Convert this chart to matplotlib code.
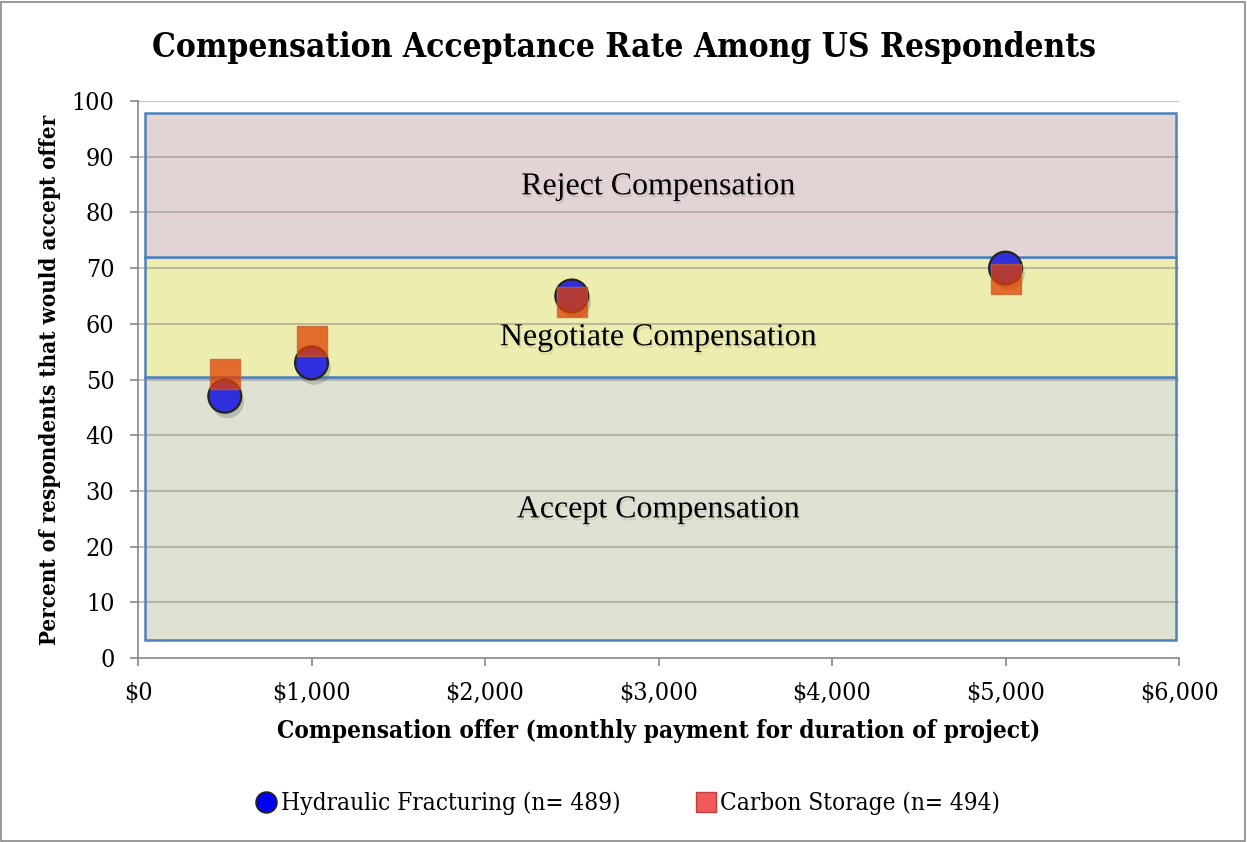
import matplotlib.pyplot as plt
from matplotlib.patches import Rectangle
from matplotlib.lines import Line2D
import matplotlib.patheffects as pe

# data
offers = [500, 1000, 2500, 5000]
hydraulic = [47, 53, 65, 70]
carbon = [51, 57, 64, 68]
hydraulic_label = 'Hydraulic Fracturing (n= 489)'
carbon_label = 'Carbon Storage (n= 494)'

# shaded zones: (bottom, top, label, label_y, colour)
zones = [
    (3.2, 50.4, 'Accept Compensation', 26.6, '#DFE1D3'),
    (50.4, 72.0, 'Negotiate Compensation', 57.5, '#EDEDB0'),
    (72.0, 97.8, 'Reject Compensation', 84.6, '#E2D4D4'),
]
zone_x0, zone_x1 = 40, 5985

xticks = [0, 1000, 2000, 3000, 4000, 5000, 6000]
xtick_labels = ['$0', '$1,000', '$2,000', '$3,000', '$4,000', '$5,000', '$6,000']
yticks = list(range(0, 101, 10))

# Cambria-like look: condensed DejaVu Serif
cambria = {'family': 'DejaVu Serif', 'stretch': 'condensed'}

fig = plt.figure(figsize=(12.47, 8.42), dpi=100)
ax = fig.add_axes([0.1107, 0.2185, 0.8348, 0.6615])

ax.set_xlim(0, 6000)
ax.set_ylim(0, 100)

for y0, y1, label, ly, col in zones:
    r = Rectangle((zone_x0, y0), zone_x1 - zone_x0, y1 - y0, facecolor=col,
                  edgecolor='#4F81BD', lw=1.8, zorder=1)
    ax.add_patch(r)
    ax.text(3000, ly, label, ha='center', va='center', fontsize=23, family='Liberation Serif',
            zorder=3, path_effects=[pe.withSimplePatchShadow(offset=(1, -2), shadow_rgbFace='#777777', alpha=0.2)])

# gridlines on top of the shaded zones
for y in yticks[1:]:
    ax.axhline(y, color='#808080', alpha=0.45, lw=1.5, zorder=2)

ax.scatter(offers, hydraulic, s=560, color='#2F2FDD', edgecolor='#262618', lw=1.6, zorder=4,
           path_effects=[pe.SimplePatchShadow(offset=(2, -4), shadow_rgbFace='#666666', alpha=0.3), pe.Normal()])
ax.scatter(offers, carbon, s=470, marker='s', color='#E04000', alpha=0.75, edgecolor='#C06030', lw=1.0,
           zorder=5)

ax.set_xticks(xticks)
ax.set_xticklabels(xtick_labels)
ax.set_yticks(yticks)
ax.tick_params(axis='both', colors='#868686', labelcolor='black', length=6, width=1.2,
               labelsize=18, pad=11)
for lab in ax.get_xticklabels() + ax.get_yticklabels():
    lab.set_family('DejaVu Serif')
    lab.set_fontstretch('condensed')
for s in ['top', 'right']:
    ax.spines[s].set_visible(False)
for s in ['left', 'bottom']:
    ax.spines[s].set_color('#868686')
    ax.spines[s].set_linewidth(1.2)

ax.set_xlabel('Compensation offer (monthly payment for duration of project)',
              fontsize=17.5, fontweight='bold', va='center', **cambria)
ax.xaxis.set_label_coords(0.5, -0.131)
ax.set_ylabel('Percent of respondents that would accept offer',
              fontsize=16, fontweight='bold', va='center', **cambria)
ax.yaxis.set_label_coords(-0.0845, 0.5)
fig.text(0.5, 0.943, 'Compensation Acceptance Rate Among US Respondents', ha='center', va='center',
         fontsize=24, fontweight='bold', **cambria)

handles = [
    Line2D([], [], ls='none', marker='o', markersize=15, markerfacecolor='#0000EE',
           markeredgecolor='#222222', markeredgewidth=1.2),
    Line2D([], [], ls='none', marker='s', markersize=14, markerfacecolor='#F25A5A',
           markeredgecolor='#C04040', markeredgewidth=1.0),
]
fig.legend(handles, [hydraulic_label, carbon_label], loc='center', bbox_to_anchor=(0.503, 0.046),
           ncol=2, frameon=False, handlelength=1.0, handletextpad=0.1, columnspacing=3.0,
           prop={'family': 'DejaVu Serif', 'stretch': 'condensed', 'size': 17.5})

# figure border
fig.add_artist(Rectangle((0.001, 0.001), 0.997, 0.997, transform=fig.transFigure,
                         fill=False, edgecolor='#868686', lw=1.2))

fig.savefig('out.png', dpi=100)
